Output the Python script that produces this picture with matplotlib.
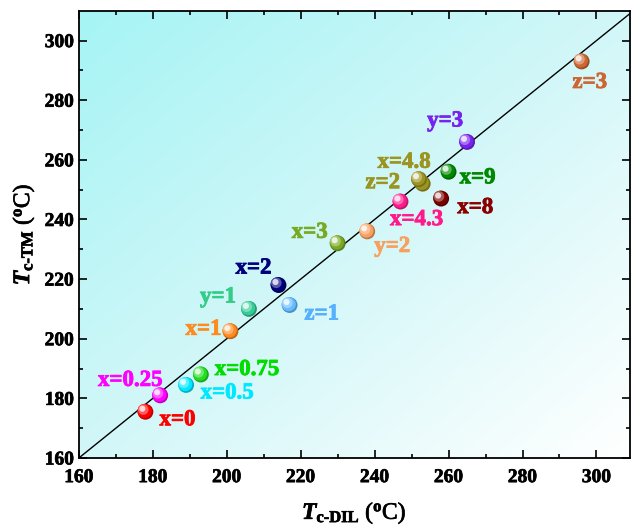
import numpy as np
import matplotlib.pyplot as plt
import matplotlib.colors as mcolors
import matplotlib.patheffects as pe
from matplotlib.transforms import offset_copy

plt.rcParams['font.family'] = ['Liberation Serif', 'DejaVu Serif']
plt.rcParams['font.weight'] = 'bold'
plt.rcParams['mathtext.fontset'] = 'custom'
plt.rcParams['mathtext.rm'] = 'Liberation Serif:bold'
plt.rcParams['mathtext.it'] = 'Liberation Serif:italic:bold'
plt.rcParams['mathtext.bf'] = 'Liberation Serif:bold'

labels = ['x=0', 'x=0.25', 'x=0.5', 'x=0.75', 'x=1', 'y=1', 'x=2', 'z=1', 'x=3',
          'y=2', 'x=4.3', 'z=2', 'x=4.8', 'x=9', 'x=8', 'y=3', 'z=3']
t_dil = [178, 182, 189, 193, 201, 206, 214, 217, 230, 238, 247, 253, 252, 260, 258, 265, 296]
t_tm = [175.5, 181, 184.5, 188, 202.5, 210, 218, 211.3, 232, 236, 246, 252, 253.5, 256, 247, 266, 293]
colors = ['#ff0000', '#ff00ff', '#00e8ff', '#22dd22', '#ff8a1e', '#33cc99', '#00007a', '#66bbff',
          '#77aa22', '#f7a060', '#ff1a8c', '#9c9420', '#9c9420', '#008800', '#7a0000', '#7722ee', '#cc6633']
label_colors = ['#ff0000', '#ff00ff', '#00e8ff', '#00dd00', '#ff8a1e', '#33cc88', '#00007a', '#55b0ff',
                '#77aa22', '#f7a060', '#ff1a8c', '#9c9420', '#9c9420', '#008800', '#8a0000', '#7722ee', '#cc6633']
# label offsets in pixels (text centre minus point centre)
offsets = [(32, -8), (-30, 15), (41, -8), (46, 5), (-27, 2), (-31, 12), (-25, 17), (32, -9), (-28, 11),
           (25, -15), (16, -18), (-40, 1), (-15, 17), (29, -6), (34, -9), (-22, 21), (8, -21)]

fig = plt.figure(figsize=(6.31, 5.28), dpi=100)
ax = fig.add_axes([0.125, 0.1326, 0.873, 0.847])
ax.set_xlim(160, 309)
ax.set_ylim(160, 310)

# gradient background: cyan top-left -> white bottom-right
n = 300
gx, gy = np.meshgrid(np.linspace(0, 1, n), np.linspace(0, 1, n))
g = (gx + gy) / 2
cmap = mcolors.LinearSegmentedColormap.from_list('bg', ['#a6f4f5', '#d2f7f8', '#ffffff'])
ax.imshow(g, cmap=cmap, extent=[0, 1, 0, 1], transform=ax.transAxes, origin='upper',
          aspect='auto', zorder=0)

ax.plot([160, 320], [160, 320], color='black', lw=1, zorder=2)


def mix(c, f):
    r = np.array(mcolors.to_rgb(c))
    if f >= 0:
        return tuple(r + (1 - r) * f)
    return tuple(r * (1 + f))


layers = [(1.0, -0.25, 0, 0), (0.8, 0.0, -0.6, 0.6), (0.45, 0.35, -1.6, 1.6), (0.15, 0.85, -2.2, 2.2)]
for i in range(len(labels)):
    for sf, f, dx, dy in layers:
        tr = offset_copy(ax.transData, fig=fig, x=dx, y=dy, units='points')
        ax.scatter(t_dil[i], t_tm[i], s=130 * sf, color=mix(colors[i], f), edgecolors='none',
                   transform=tr, zorder=3)
    ax.annotate(labels[i], (t_dil[i], t_tm[i]), xytext=offsets[i], textcoords='offset pixels',
                ha='center', va='center', color=label_colors[i], fontsize=16.5, fontweight='bold',
                zorder=4, path_effects=[pe.withStroke(linewidth=0.6, foreground=label_colors[i])])

ax.set_xticks(np.arange(160, 301, 20))
ax.set_yticks(np.arange(160, 301, 20))
ax.set_xticks(np.arange(160, 310, 10), minor=True)
ax.set_yticks(np.arange(160, 310, 10), minor=True)
ax.tick_params(which='both', direction='in', top=True, right=True, labelsize=14, width=1.2)
ax.tick_params(which='major', length=6)
ax.tick_params(which='minor', length=3)
ax.tick_params(axis='x', pad=8)
bold = [pe.withStroke(linewidth=0.5, foreground='black')]
for lab in ax.get_xticklabels() + ax.get_yticklabels():
    lab.set_fontweight('bold')
    lab.set_path_effects(bold)
for s in ax.spines.values():
    s.set_linewidth(1.3)

ax.set_xlabel(r'$\mathit{T}_{\mathrm{c\text{-}DIL}}$ ($^{\mathrm{o}}$C)', fontsize=17, labelpad=10,
              path_effects=bold)
ax.set_ylabel(r'$\mathit{T}_{\mathrm{c\text{-}TM}}$ ($^{\mathrm{o}}$C)', fontsize=17, labelpad=6,
              path_effects=bold)

fig.savefig('out.png', dpi=100)
